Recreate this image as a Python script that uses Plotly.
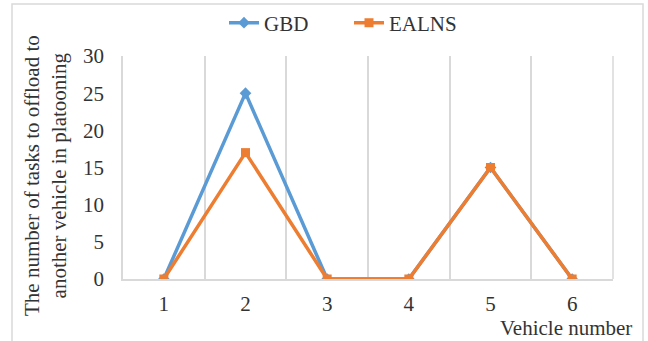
import plotly.graph_objects as go

# Vehicle index in the platoon and offloaded task counts per method
vehicles = ["1", "2", "3", "4", "5", "6"]
gbd_tasks = [0, 25, 0, 0, 15, 0]
ealns_tasks = [0, 17, 0, 0, 15, 0]
y_ticks = [0, 5, 10, 15, 20, 25, 30]

FONT = "Liberation Serif"
TXT = "#333333"
GRID = "#d9d9d9"

W, H = 648, 341
L, R, T, B = 123, 35, 56, 62
pw, ph = W - L - R, H - T - B


def px_x(x):
    return (x - L) / pw


def px_y(y):
    return (H - B - y) / ph


fig = go.Figure()
fig.add_trace(go.Scatter(
    x=vehicles, y=gbd_tasks, name="GBD", mode="lines+markers",
    line=dict(color="#5B9BD5", width=3.5),
    marker=dict(symbol="diamond", size=9, color="#5B9BD5"),
))
fig.add_trace(go.Scatter(
    x=vehicles, y=ealns_tasks, name="EALNS", mode="lines+markers",
    line=dict(color="#ED7D31", width=3.5),
    marker=dict(symbol="square", size=9, color="#ED7D31"),
))

fig.update_layout(
    width=W, height=H,
    margin=dict(l=L, r=R, t=T, b=B, autoexpand=False),
    paper_bgcolor="white", plot_bgcolor="white",
    font=dict(family=FONT, size=21, color=TXT),
    showlegend=True,
    legend=dict(
        orientation="h", x=px_x(224), xanchor="left",
        y=px_y(23), yanchor="middle",
        entrywidth=80,
        font=dict(family=FONT, size=21, color=TXT),
        bgcolor="rgba(0,0,0,0)",
    ),
    xaxis=dict(
        type="category", range=[-0.5, len(vehicles) - 0.5],
        tickson="boundaries",
        showgrid=True, gridcolor=GRID, gridwidth=1.5,
        showline=True, linecolor=GRID, linewidth=1.5,
        ticks="", ticklabelstandoff=5,
        tickfont=dict(family=FONT, size=21, color=TXT),
        zeroline=False, fixedrange=True, automargin=False,
    ),
    yaxis=dict(
        range=[0, 30], tickvals=y_ticks,
        showgrid=False, zeroline=False,
        showline=True, linecolor=GRID, linewidth=1.5,
        ticks="outside", ticklen=13, tickcolor="rgba(0,0,0,0)",
        tickfont=dict(family=FONT, size=21, color=TXT),
        fixedrange=True, automargin=False,
    ),
    shapes=[
        dict(type="rect", xref="paper", yref="paper",
             x0=px_x(12), x1=px_x(643), y0=px_y(370), y1=px_y(4),
             line=dict(color=GRID, width=1.5), layer="below"),
        dict(type="line", xref="paper", yref="paper",
             x0=1, x1=1, y0=0, y1=1,
             line=dict(color=GRID, width=1.5), layer="below"),
    ],
    annotations=[
        dict(text="The number of tasks to offload to<br>another vehicle in platooning",
             xref="paper", yref="paper", x=px_x(45), y=px_y(176),
             xanchor="center", yanchor="middle", textangle=-90,
             showarrow=False, font=dict(family=FONT, size=21, color=TXT)),
        dict(text="Vehicle number", xref="paper", yref="paper",
             x=px_x(634), y=px_y(328), xanchor="right", yanchor="middle",
             showarrow=False, font=dict(family=FONT, size=21, color=TXT)),
    ],
)

fig.write_html("out.html")
